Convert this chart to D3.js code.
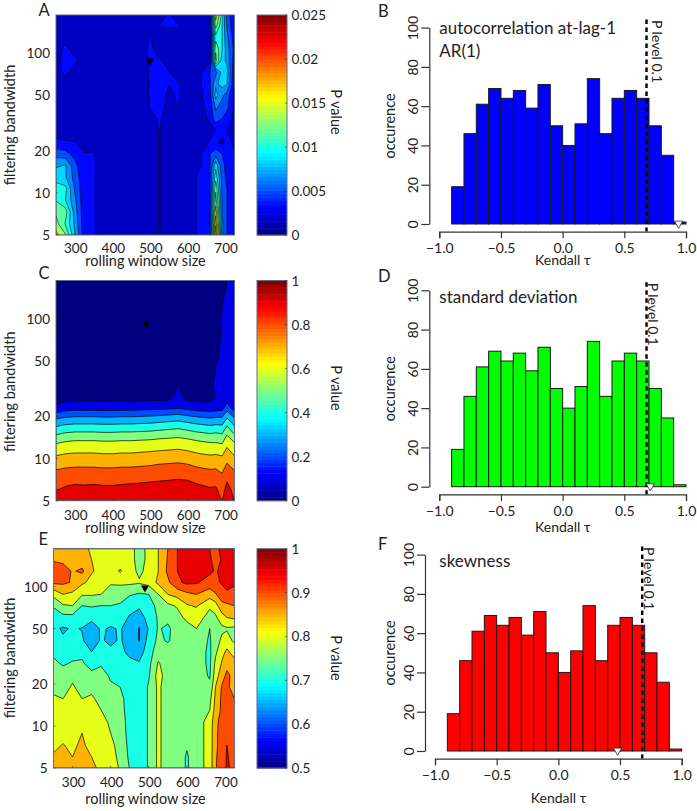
<!DOCTYPE html>
<html>
<head>
<meta charset="utf-8">
<script src="https://d3js.org/d3.v7.min.js"></script>
<style>
    html, body { margin: 0; padding: 0; background: #fff; }
    svg { display: block; }
    text { font-family: "Lato", "Open Sans", sans-serif; fill: #222; }
</style>
</head>
<body>
<script>
// rolling window sizes (columns) and filtering bandwidths (rows, bottom to top)
const windowSizes = [250,275,300,325,350,375,400,425,450,475,500,525,550,575,600,625,660,675,692,705,725];
const bandwidths = [5,6,7.3,8.9,10.7,13,15.7,19,23,28,34,41,50,60,73,88,107,129,156,187];

// panel A: P value of AR(1), in units of 0.001
const pValuesA = [
    [15.5,13.5,8.5,4,3.6,2.5,2.5,2.5,2.5,2.5,2.5,3.4,2.5,2.5,2.5,3.4,5,20,7,5,3.6],
    [14,11.5,8,3.9,3.5,2.5,2.5,2.5,2.5,2.5,2.5,3.4,2.5,2.5,2.5,3.4,5,18,7,5,3.6],
    [13,12.5,7.5,3.9,3.5,2.5,2.5,2.5,2.5,2.5,2.5,3.4,2.5,2.5,2.5,3.4,5,16,6.5,5,3.6],
    [11.5,10,7,3.8,3.5,2.5,2.5,2.5,2.5,2.5,2.5,3.4,2.5,2.5,2.5,3.4,5,14,6.5,5,3.6],
    [10.5,10.5,6.5,3.8,3.5,2.5,2.5,2.5,2.5,2.5,2.5,3.4,2.5,2.5,2.5,3.4,5,13,6,5,3.6],
    [9.5,8.5,6,3.8,3.5,2.5,2.5,2.5,2.5,2.5,2.5,3.4,2.5,2.5,2.5,3.4,5,11,6,4.5,3.5],
    [8,8.5,5.5,3.7,3.5,2.5,2.5,2.5,2.5,2.5,2.5,3.4,2.5,2.5,2.5,2.5,5,9.5,5.5,4.5,3.5],
    [6,5.5,4.5,3.4,3.5,2.5,2.5,2.5,2.5,2.5,2.5,3.4,2.5,2.5,2.5,2.5,5,6,5,4.5,3.4],
    [3.7,3.5,3.4,2.5,2.5,2.5,2.5,2.5,2.5,2.5,2.5,3.4,2.5,2.5,2.5,2.5,3.5,3.5,3,4,3],
    [2.5,2.5,2.5,2.5,2.5,2.5,2.5,2.5,2.5,2.5,2.5,3.4,2.5,2.5,2.5,2.5,2.8,3.4,3.8,3.4,2.5],
    [2.5,2.5,2.5,2.5,2.5,2.5,2.5,2.5,2.5,2.5,2.5,3.6,2.5,2.5,2.5,2.5,3.6,6,5,4,3],
    [2.5,2.5,2.5,2.5,2.5,2.5,2.5,2.5,2.5,2.5,3.4,3.7,3,3.4,2.5,2.5,4,7,6,5.5,3],
    [2.5,2.5,2.5,2.5,2.5,2.5,2.5,2.5,2.5,2.5,3.5,4.2,3,3.5,2.5,2.5,4.5,9,7,6,2.8],
    [2.5,2.5,2.5,2.5,2.5,2.5,2.5,2.5,2.5,2.5,3.45,3.8,3.4,3.5,2.5,2.5,5,8,9,8.5,3.4],
    [2.5,3.8,2.5,2.5,2.5,2.5,2.5,2.5,2.5,2.5,3.5,3.8,3.5,2.5,2.5,2.5,5,6,9,9,3.5],
    [2.5,4.2,3.8,2.5,2.5,2.5,2.5,2.5,2.5,2.5,3.6,3.6,2.5,2.5,2.5,2.5,3,14,9,8,4],
    [2.5,3.8,2.5,2.5,2.5,2.5,2.5,2.5,2.5,2.5,3.7,2.5,2.5,2.5,2.5,2.5,3,13,10,7.5,4.5],
    [2.5,2.5,2.5,2.5,2.5,2.5,2.5,2.5,2.5,2.5,3.5,2.5,2.5,2.5,2.5,2.5,3,11,10,7,4],
    [2.5,2.5,2.5,2.5,2.5,2.5,2.5,2.5,2.5,2.5,2.5,3.4,3.5,3.5,2.5,2.5,3.5,14,10,6.5,3.5],
    [2.5,2.5,2.5,2.5,2.5,2.5,2.5,2.5,2.5,2.5,3.4,2.5,3.5,2.5,2.5,2.5,2.8,16,11,6,3.5]
];

// panel C: P value of standard deviation
const pValuesC = [
    [.97,.98,.99,.99,.99,.99,.99,.99,.99,.99,.99,.99,.99,.99,.99,.98,.96,.96,.895,.98,.895],
    [.895,.915,.925,.92,.925,.92,.92,.925,.93,.935,.94,.945,.95,.955,.95,.93,.91,.915,.86,.935,.87],
    [.85,.855,.865,.865,.865,.86,.86,.865,.865,.87,.875,.88,.885,.89,.885,.865,.85,.85,.82,.88,.84],
    [.77,.785,.79,.79,.79,.785,.785,.79,.79,.795,.80,.81,.815,.82,.81,.79,.775,.78,.76,.815,.77],
    [.69,.705,.71,.71,.71,.705,.705,.71,.71,.715,.72,.725,.73,.735,.725,.71,.695,.70,.69,.74,.69],
    [.59,.61,.62,.62,.62,.615,.615,.62,.62,.625,.63,.64,.645,.65,.64,.62,.60,.60,.59,.67,.60],
    [.455,.48,.49,.49,.49,.485,.485,.49,.49,.495,.50,.51,.52,.53,.51,.49,.47,.48,.47,.56,.46],
    [.31,.33,.34,.34,.34,.335,.335,.34,.34,.345,.35,.36,.37,.38,.36,.34,.32,.33,.33,.42,.32],
    [.12,.15,.16,.16,.16,.155,.155,.16,.16,.165,.17,.175,.18,.19,.17,.15,.14,.15,.16,.25,.15],
    [.05,.05,.05,.05,.05,.05,.05,.05,.05,.05,.05,.05,.05,.13,.05,.05,.05,.11,.12,.13,.11],
    [.03,.03,.03,.03,.03,.03,.03,.03,.03,.03,.03,.03,.03,.105,.03,.03,.08,.12,.12,.12,.12],
    [.03,.03,.03,.03,.03,.03,.03,.03,.03,.03,.03,.03,.03,.03,.03,.03,.05,.105,.12,.12,.12],
    [.03,.03,.03,.03,.03,.03,.03,.03,.03,.03,.03,.03,.03,.03,.03,.03,.03,.095,.11,.12,.12],
    [.03,.03,.03,.03,.03,.03,.03,.03,.03,.03,.03,.03,.03,.03,.03,.03,.03,.09,.11,.12,.12],
    [.03,.03,.03,.03,.03,.03,.03,.03,.03,.03,.03,.03,.03,.03,.03,.03,.03,.08,.105,.12,.12],
    [.03,.03,.03,.03,.03,.03,.03,.03,.03,.03,.03,.03,.03,.03,.03,.03,.03,.07,.105,.12,.12],
    [.03,.03,.03,.03,.03,.03,.03,.03,.03,.03,.03,.03,.03,.03,.03,.03,.03,.06,.102,.12,.12],
    [.03,.03,.03,.03,.03,.03,.03,.03,.03,.03,.03,.03,.03,.03,.03,.03,.03,.05,.10,.12,.12],
    [.03,.03,.03,.03,.03,.03,.03,.03,.03,.03,.03,.03,.03,.03,.03,.03,.03,.04,.07,.11,.12],
    [.03,.03,.03,.03,.03,.03,.03,.03,.03,.03,.03,.03,.03,.03,.03,.03,.03,.03,.05,.10,.12]
];

// panel E: P value of skewness
const pValuesE = [
    [.87,.87,.865,.875,.86,.84,.825,.795,.748,.72,.755,.81,.775,.775,.745,.775,.82,.895,.925,.955,.94],
    [.855,.86,.85,.87,.85,.83,.815,.79,.74,.72,.755,.81,.775,.775,.745,.775,.82,.895,.92,.955,.93],
    [.84,.852,.84,.86,.83,.825,.81,.785,.735,.72,.755,.81,.775,.775,.755,.775,.82,.89,.92,.95,.925],
    [.83,.835,.83,.85,.82,.815,.80,.78,.73,.72,.755,.81,.775,.775,.775,.775,.82,.89,.92,.94,.92],
    [.82,.825,.82,.825,.815,.81,.795,.775,.73,.72,.755,.81,.775,.775,.775,.775,.82,.885,.92,.93,.91],
    [.81,.815,.815,.815,.81,.80,.785,.77,.725,.72,.755,.81,.775,.775,.775,.775,.80,.87,.91,.92,.90],
    [.805,.80,.81,.80,.805,.79,.775,.765,.725,.72,.755,.81,.775,.775,.775,.775,.785,.86,.91,.915,.90],
    [.79,.785,.805,.785,.79,.78,.755,.75,.72,.72,.755,.81,.775,.775,.775,.775,.76,.85,.905,.905,.89],
    [.775,.77,.79,.77,.76,.765,.745,.735,.715,.715,.745,.82,.775,.775,.775,.775,.745,.825,.88,.91,.885],
    [.76,.745,.755,.755,.735,.745,.73,.725,.71,.705,.735,.805,.775,.775,.775,.775,.74,.81,.855,.885,.865],
    [.74,.725,.73,.74,.70,.72,.71,.71,.69,.675,.73,.775,.77,.775,.775,.775,.74,.79,.835,.86,.83],
    [.725,.705,.705,.705,.675,.705,.69,.705,.68,.648,.72,.76,.745,.77,.775,.775,.745,.775,.81,.82,.79],
    [.71,.695,.704,.698,.675,.706,.695,.704,.68,.648,.705,.755,.74,.775,.785,.80,.75,.775,.79,.795,.79],
    [.705,.735,.735,.73,.715,.72,.725,.72,.695,.675,.72,.755,.765,.785,.81,.825,.78,.79,.83,.85,.86],
    [.76,.795,.80,.75,.755,.75,.75,.745,.72,.71,.735,.76,.79,.805,.845,.855,.81,.83,.885,.89,.90],
    [.815,.85,.84,.805,.805,.80,.76,.77,.755,.745,.75,.80,.85,.87,.89,.90,.875,.895,.93,.945,.94],
    [.91,.91,.895,.86,.835,.825,.81,.81,.81,.805,.82,.86,.89,.94,.96,.955,.93,.94,.955,.96,.955],
    [.925,.925,.895,.91,.855,.835,.825,.855,.82,.79,.815,.85,.91,.95,.97,.97,.96,.945,.96,.96,.96],
    [.895,.885,.875,.87,.85,.83,.825,.825,.815,.785,.81,.85,.905,.95,.97,.97,.96,.925,.955,.96,.96],
    [.87,.865,.86,.86,.845,.825,.82,.82,.815,.785,.81,.85,.90,.95,.97,.97,.95,.945,.955,.96,.96]
];

// histogram: left edge of each 0.1 wide bin and counts (same for all three)
const binStarts = [-0.9,-0.8,-0.7,-0.6,-0.5,-0.4,-0.3,-0.2,-0.1,0,0.1,0.2,0.3,0.4,0.5,0.6,0.7,0.8,0.9];
const binCounts = [19,46,61,69,64,68,59,71,50,40,51,74,46,64,68,64,50,35,1];

const pLevel = 0.68;
const observedTau = [0.94, 0.71, 0.48];
const xTicksWindow = [300,400,500,600,700];
const yTicksBandwidth = [5,10,20,50,100];
const kendallTicks = [-1,-0.5,0,0.5,1];
const occurenceTicks = [0,20,40,60,80,100];

const width = 697;
const height = 811;
const numberFont = 13.5;
const wordFont = 14.5;

const svg = d3.select("body").append("svg")
    .attr("width", width)
    .attr("height", height);

// matlab jet colormap
function jet(t) {
    const r = d3.scaleLinear().domain([0.375, 0.625, 0.875, 1]).range([0, 1, 1, 0.5]).clamp(true);
    const g = d3.scaleLinear().domain([0.125, 0.375, 0.625, 0.875]).range([0, 1, 1, 0]).clamp(true);
    const b = d3.scaleLinear().domain([0, 0.125, 0.375, 0.625]).range([0.5, 1, 1, 0]).clamp(true);
    return d3.rgb(r(t) * 255, g(t) * 255, b(t) * 255).toString();
}

function label(x, y, str, size, anchor, rotate) {
    const t = svg.append("text")
        .attr("font-size", size)
        .attr("text-anchor", anchor || "start")
        .text(str);
    if (rotate) t.attr("transform", "translate(" + x + "," + y + ") rotate(" + rotate + ")");
    else t.attr("x", x).attr("y", y);
    return t;
}

// one contour panel with its colorbar
function drawContour(c) {
    const nx = windowSizes.length;
    const ny = bandwidths.length;
    const x = d3.scaleLinear().domain([250, 725]).range([c.left, 234.5]);
    const y = d3.scaleLog().domain([5, 187]).range([c.bottom, c.top]);

    // d3.contours puts grid value i at i + 0.5
    const gridX = d3.scaleLinear().domain(d3.range(nx)).range(windowSizes).clamp(true);
    const gridY = d3.scaleLinear().domain(d3.range(ny)).range(bandwidths).clamp(true);
    const path = d3.geoPath(d3.geoTransform({
        point: function (cx, cy) {
            this.stream.point(x(gridX(cx - 0.5)), y(gridY(cy - 0.5)));
        }
    }));

    const step = (c.max - c.min) / c.levels;
    const thresholds = d3.range(c.levels).map(function (i) { return c.min + i * step; });
    const contours = d3.contours().size([nx, ny]).thresholds(thresholds)(c.values.flat().map(function (v) { return v * c.unit; }));

    svg.append("clipPath").attr("id", c.id)
        .append("rect")
        .attr("x", x.range()[0]).attr("y", c.top)
        .attr("width", x.range()[1] - x.range()[0]).attr("height", c.bottom - c.top);

    svg.append("g").attr("clip-path", "url(#" + c.id + ")")
        .selectAll("path")
        .data(contours)
        .enter()
        .append("path")
        .attr("d", path)
        .attr("fill", function (d) { return jet((d.value - c.min) / (c.max - c.min)); })
        .attr("stroke", "#000")
        .attr("stroke-width", c.lineWidth)
        .attr("stroke-linejoin", "round");

    // minimum marker
    svg.append("path")
        .attr("d", d3.symbol().type(d3.symbolTriangle).size(28))
        .attr("transform", "translate(" + x(c.marker[0]) + "," + y(c.marker[1]) + ") rotate(180)")
        .attr("fill", "#000");

    svg.append("rect")
        .attr("x", x.range()[0]).attr("y", c.top)
        .attr("width", x.range()[1] - x.range()[0]).attr("height", c.bottom - c.top)
        .attr("fill", "none").attr("stroke", "#5f6b8c").attr("stroke-width", 1);

    // axis ticks and labels
    xTicksWindow.forEach(function (v) {
        svg.append("line").attr("x1", x(v)).attr("x2", x(v)).attr("y1", c.bottom).attr("y2", c.bottom - 2).attr("stroke", "#333").attr("stroke-width", 0.6);
        label(x(v) + 1, c.tickY, v, numberFont, "middle");
    });
    yTicksBandwidth.forEach(function (v) {
        svg.append("line").attr("x1", x.range()[0]).attr("x2", x.range()[0] + 2).attr("y1", y(v)).attr("y2", y(v)).attr("stroke", "#333").attr("stroke-width", 0.6);
        label(c.left - 6, y(v) + 5, v, numberFont, "end");
    });
    label(145.5, c.labelY, "rolling window size", wordFont, "middle");
    label(c.nameX, c.nameY, "filtering bandwidth", wordFont, "middle", -90);
    label(38.5, c.letterY, c.letter, 16.5);

    // colorbar
    const barY = d3.scaleLinear().domain([c.min, c.max]).range([c.bottom, c.top]);
    const stops = d3.range(0, 64);
    svg.append("g").selectAll("rect")
        .data(stops)
        .enter()
        .append("rect")
        .attr("x", 257)
        .attr("width", 30)
        .attr("y", function (d) { return barY(c.min + (d + 1) / 64 * (c.max - c.min)); })
        .attr("height", (c.bottom - c.top) / 64 + 0.5)
        .attr("fill", function (d) { return jet((d + 0.5) / 64); });
    svg.append("rect")
        .attr("x", 257).attr("y", c.top).attr("width", 30).attr("height", c.bottom - c.top)
        .attr("fill", "none").attr("stroke", "#5f6b8c").attr("stroke-width", 1);
    c.barTicks.forEach(function (v, i) {
        svg.append("line").attr("x1", 285).attr("x2", 287).attr("y1", barY(v)).attr("y2", barY(v)).attr("stroke", "#333").attr("stroke-width", 0.6);
        label(291.5, barY(v) + 5, c.barLabels[i], numberFont);
    });
    label(331, c.pValueY, "P value", wordFont, "middle", 90);
}

// one histogram panel
function drawHist(h) {
    const x = d3.scaleLinear().domain([-1, 1]).range([h.x0, h.x0 + 246.7]);
    const y = d3.scaleLinear().domain([0, 100]).range([h.y0, h.y0 - 196.4]);
    const g = svg.append("g");

    g.selectAll("rect")
        .data(binStarts)
        .enter()
        .append("rect")
        .attr("x", function (d) { return x(d); })
        .attr("y", function (d, i) { return y(binCounts[i]); })
        .attr("width", function (d) { return x(d + 0.1) - x(d); })
        .attr("height", function (d, i) { return y(0) - y(binCounts[i]); })
        .attr("fill", h.color)
        .attr("stroke", "#1a1a1a")
        .attr("stroke-width", 1);

    // dashed P level line
    g.append("line")
        .attr("x1", x(pLevel)).attr("x2", x(pLevel))
        .attr("y1", h.y0 - 204.5).attr("y2", h.y0 + 7.5)
        .attr("stroke", "#000").attr("stroke-width", 2.4)
        .attr("stroke-dasharray", "4.5 3.5");

    // observed tau
    g.append("path")
        .attr("d", d3.symbol().type(d3.symbolTriangle).size(30))
        .attr("transform", "translate(" + x(h.tau) + "," + (h.y0 - 0.5) + ") rotate(180)")
        .attr("fill", "#fff").attr("stroke", "#222").attr("stroke-width", 0.8);

    const xAxis = svg.append("g")
        .attr("transform", "translate(0," + (h.y0 + 7.7) + ")")
        .call(d3.axisBottom(x).tickValues(kendallTicks).tickSize(6.5).tickSizeOuter(6.5).tickPadding(4).tickFormat(function (d) {
            return d3.format(".1f")(d).replace("-", "\u2212");
        }));
    xAxis.selectAll("text").attr("font-size", numberFont + 0.5).style("fill", "#222").attr("dy", "0.8em");

    const yAxis = svg.append("g")
        .attr("transform", "translate(" + (h.x0 - 10) + ",0)")
        .call(d3.axisLeft(y).tickValues(occurenceTicks).tickSize(8).tickSizeOuter(0));
    yAxis.selectAll("text")
        .attr("font-size", numberFont + 0.5)
        .attr("transform", "rotate(-90)")
        .attr("text-anchor", "middle")
        .attr("x", 0).attr("y", -11).attr("dy", 0)
        .style("fill", "#222");
    svg.selectAll("g .domain, g .tick line").attr("stroke", "#333").attr("stroke-width", 1.2);

    label(h.x0 + 123.5, h.labelY, "Kendall \u03c4", 14, "middle");
    label(395, h.y0 - 98, "occurence", wordFont, "middle", -90);
    label(h.letterX, h.letterY, h.letter, 16.5);
    h.title.forEach(function (line, i) {
        label(439.3, h.titleY + i * 22.6, line, 17);
    });
    label(h.pX, h.y0 - 204, "P level 0.1", 14, "start", 90);
}

drawContour({ id: "clipA", letter: "A", values: pValuesA, unit: 0.001, min: 0, max: 0.025, levels: 15, lineWidth: 0.55,
    left: 56, top: 15, bottom: 235, tickY: 253, labelY: 265.5, nameX: 15, nameY: 125, letterY: 16, pValueY: 112,
    marker: [500, 88],
    barTicks: [0, 0.005, 0.01, 0.015, 0.02, 0.025], barLabels: ["0", "0.005", "0.01", "0.015", "0.02", "0.025"] });

drawContour({ id: "clipC", letter: "C", values: pValuesC, unit: 1, min: 0, max: 1, levels: 10, lineWidth: 0.7,
    left: 56, top: 280.5, bottom: 500.7, tickY: 519.5, labelY: 533, nameX: 15, nameY: 391.7, letterY: 279, pValueY: 388,
    marker: [490, 92],
    barTicks: [0, 0.2, 0.4, 0.6, 0.8, 1], barLabels: ["0", "0.2", "0.4", "0.6", "0.8", "1"] });

drawContour({ id: "clipE", letter: "E", values: pValuesE, unit: 1, min: 0.5, max: 1, levels: 10, lineWidth: 0.7,
    left: 53.5, top: 548.7, bottom: 768, tickY: 787, labelY: 804, nameX: 15, nameY: 658, letterY: 545, pValueY: 658,
    marker: [490, 98],
    barTicks: [0.5, 0.6, 0.7, 0.8, 0.9, 1], barLabels: ["0.5", "0.6", "0.7", "0.8", "0.9", "1"] });

drawHist({ letter: "B", letterX: 378, letterY: 17, color: "#0000ff", x0: 439.3, y0: 224, tau: observedTau[0],
    labelY: 265, title: ["autocorrelation at-lag-1", "AR(1)"], titleY: 34, pX: 652 });
drawHist({ letter: "D", letterX: 378, letterY: 282, color: "#00ff00", x0: 439.3, y0: 486.7, tau: observedTau[1],
    labelY: 531.7, title: ["standard deviation"], titleY: 303, pX: 648 });
drawHist({ letter: "F", letterX: 378, letterY: 550, color: "#ff0000", x0: 435, y0: 751, tau: observedTau[2],
    labelY: 803, title: ["skewness"], titleY: 566.7, pX: 644 });
</script>
</body>
</html>
